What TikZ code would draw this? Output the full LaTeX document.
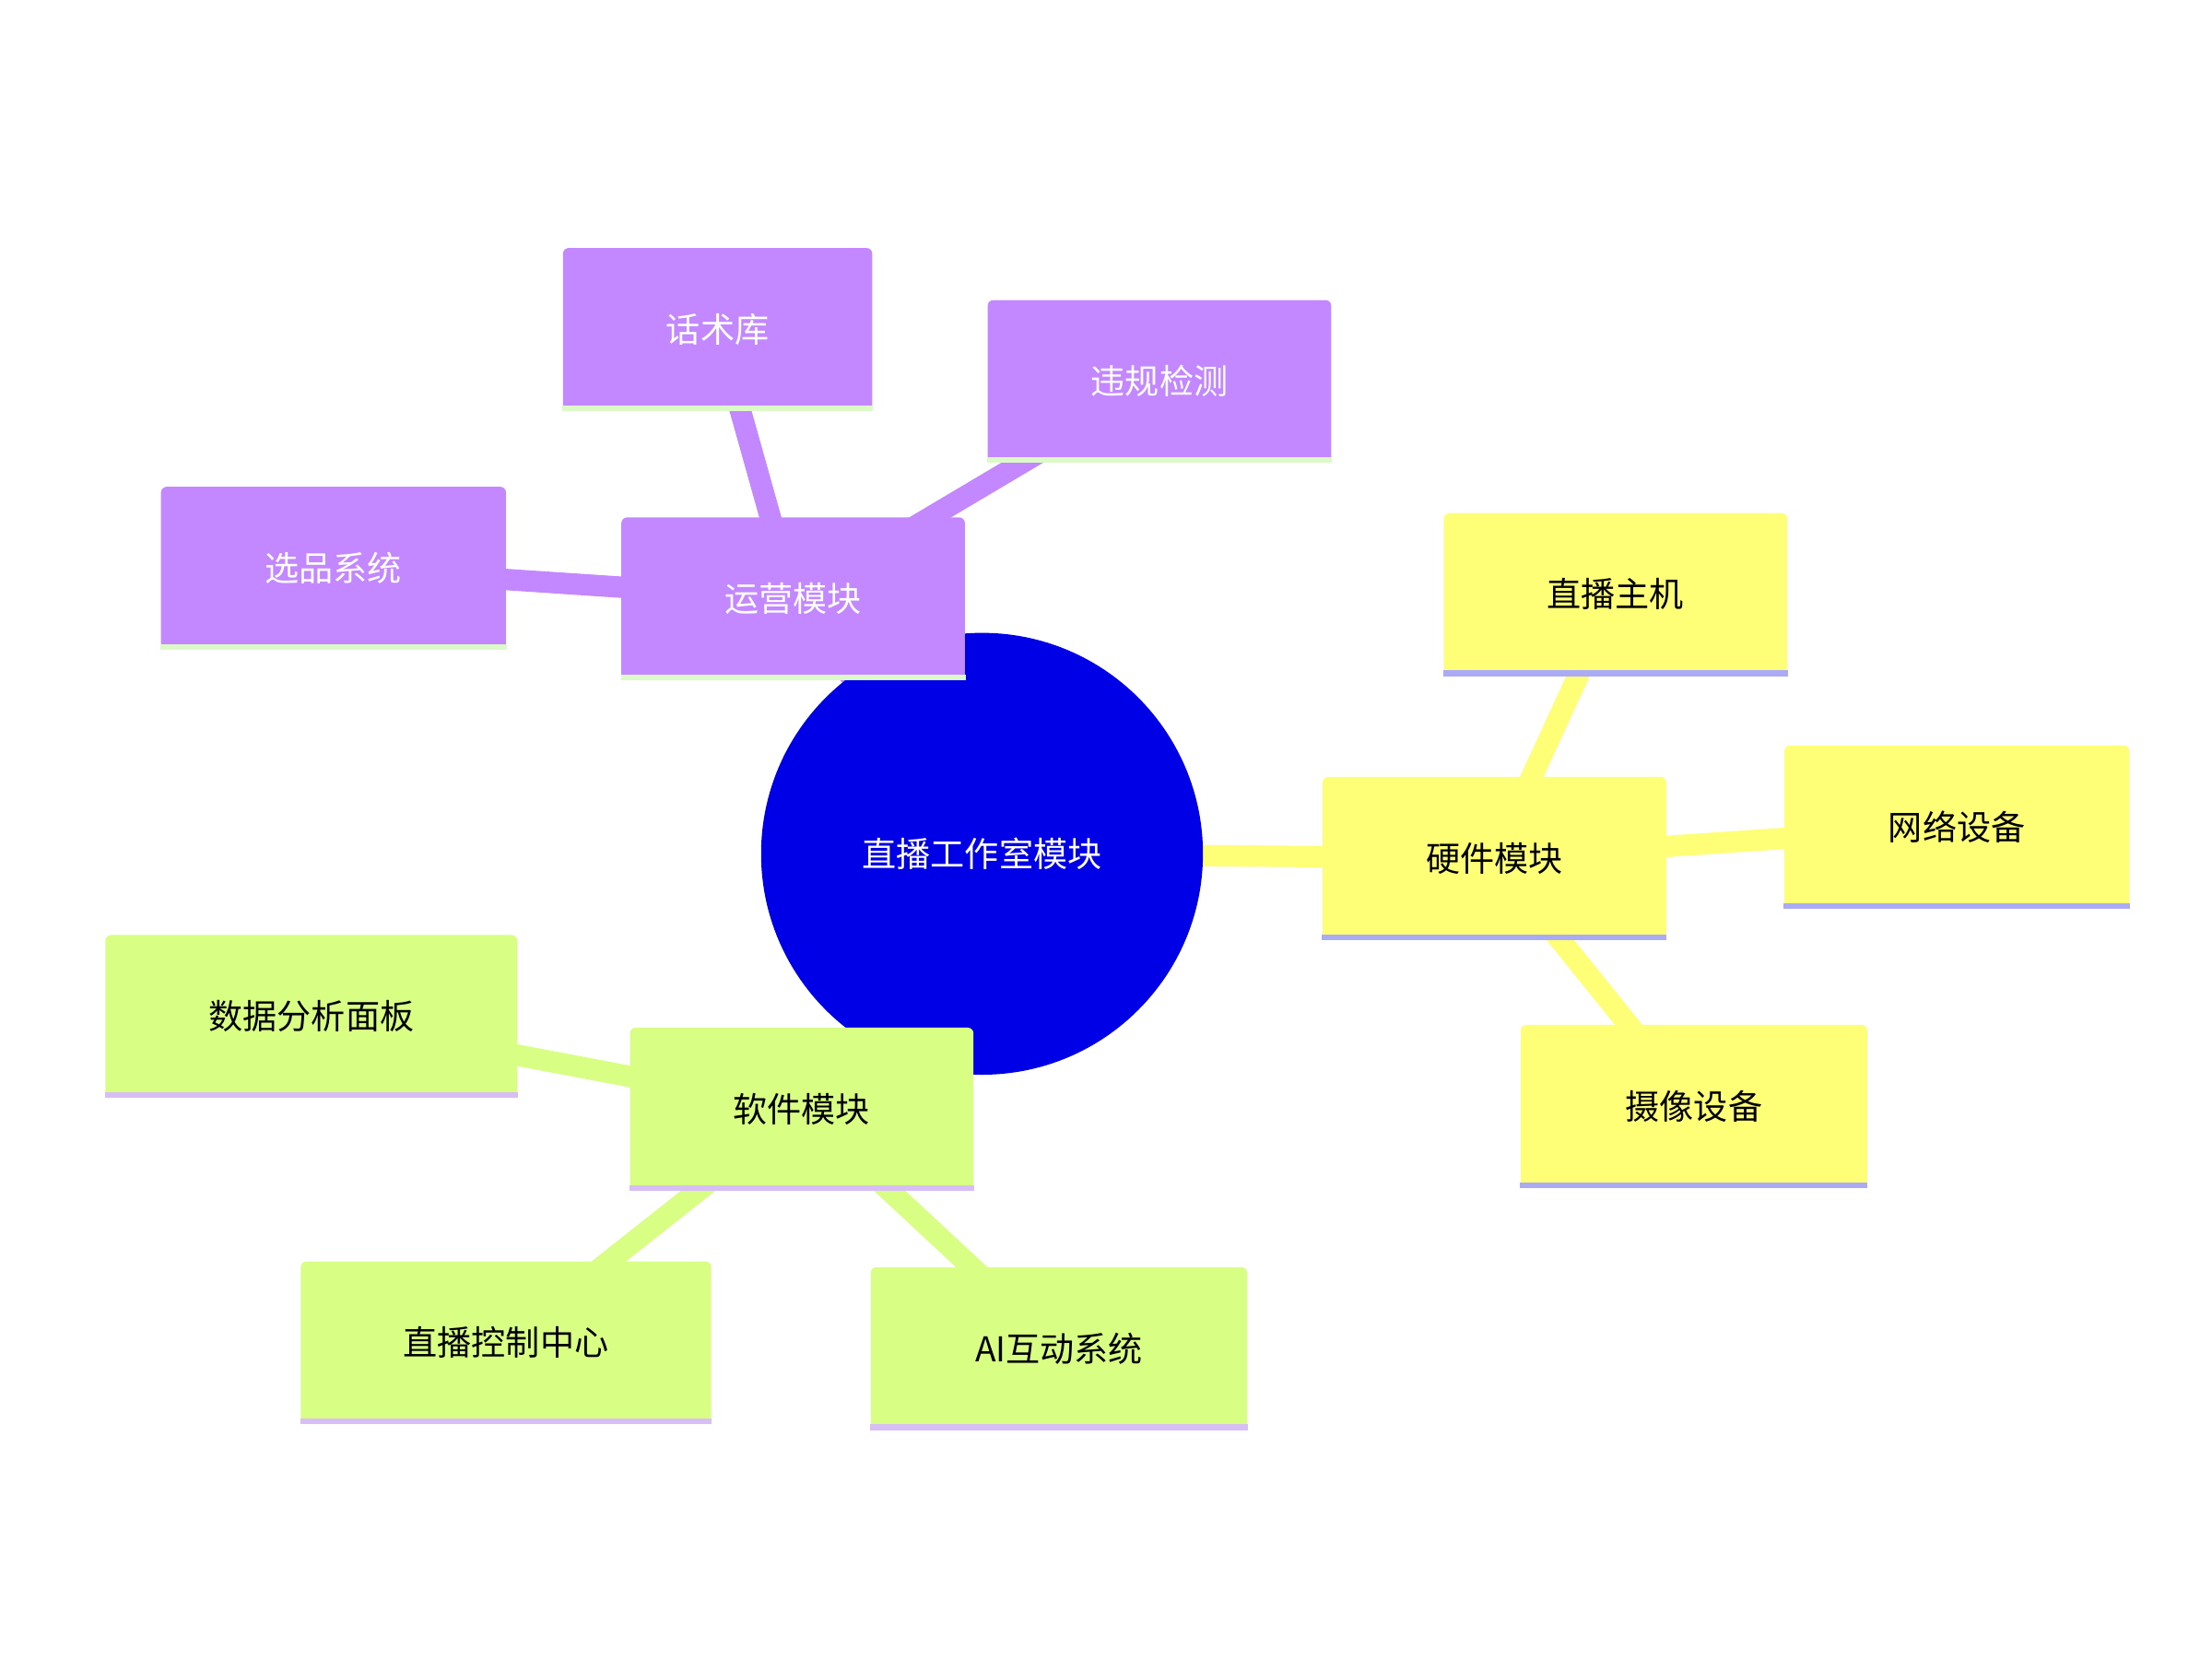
\documentclass[tikz,border=0pt]{standalone}
\usepackage{fontspec}
\setmainfont{Noto Sans CJK SC}
\definecolor{pur}{RGB}{195,136,255}
\definecolor{yel}{RGB}{255,255,119}
\definecolor{grn}{RGB}{216,255,132}
\definecolor{lgrn}{RGB}{220,250,200}
\definecolor{lav}{RGB}{170,170,245}
\definecolor{lpur}{RGB}{215,190,245}
\definecolor{cblue}{RGB}{0,0,230}
\begin{document}
\begin{tikzpicture}[x=0.5pt,y=-0.5pt,
  bx/.style={rounded corners=2pt,inner sep=0pt,font=\fontsize{12}{14}\selectfont,minimum height=57pt},
  pbox/.style={bx,fill=pur,text=white},
  ybox/.style={bx,fill=yel,text=black},
  gbox/.style={bx,fill=grn,text=black},
  ed/.style={line width=7.5pt}]
\useasboundingbox (0,0) rectangle (1552,1164);
\fill[white] (0,0) rectangle (1552,1164);
\coordinate (c) at (689,599);
\coordinate (op) at (556.5,420);
\coordinate (hw) at (1048.5,602);
\coordinate (sw) at (562.5,778);
\coordinate (a1) at (503.5,231);
\coordinate (a2) at (813.5,267.5);
\coordinate (a3) at (234,398.5);
\coordinate (b1) at (1133.5,417);
\coordinate (b2) at (1373,580);
\coordinate (b3) at (1188.5,776);
\coordinate (d1) at (218.5,713);
\coordinate (d2) at (355,942);
\coordinate (d3) at (743,946);
\draw[ed,pur] (c)--(op) (op)--(a1) (op)--(a2) (op)--(a3);
\draw[ed,yel] (c)--(hw) (hw)--(b1) (hw)--(b2) (hw)--(b3);
\draw[ed,grn] (c)--(sw) (sw)--(d1) (sw)--(d2) (sw)--(d3);
\node[circle,fill=cblue,minimum size=155pt,inner sep=0pt,text=white,font=\fontsize{12}{14}\selectfont] (root) at (c) {直播工作室模块};
\foreach \n/\p/\w/\s/\t/\st in {nop/op/120.5/pbox/运营模块/lgrn, na1/a1/108.5/pbox/话术库/lgrn, na2/a2/120.5/pbox/违规检测/lgrn, na3/a3/121/pbox/选品系统/lgrn,
 nhw/hw/120.5/ybox/硬件模块/lav, nb1/b1/120.5/ybox/直播主机/lav, nb2/b2/121/ybox/网络设备/lav, nb3/b3/121.5/ybox/摄像设备/lav,
 nsw/sw/120.5/gbox/软件模块/lpur, nd1/d1/144.5/gbox/数据分析面板/lpur, nd2/d2/144/gbox/直播控制中心/lpur, nd3/d3/132/gbox/AI互动系统/lpur}{
  \node[\s,minimum width=\w pt] (\n) at (\p) {\t};
  \fill[\st] ([yshift=0pt]\n.south west) rectangle ([yshift=2pt]\n.south east);
}
\end{tikzpicture}
\end{document}
